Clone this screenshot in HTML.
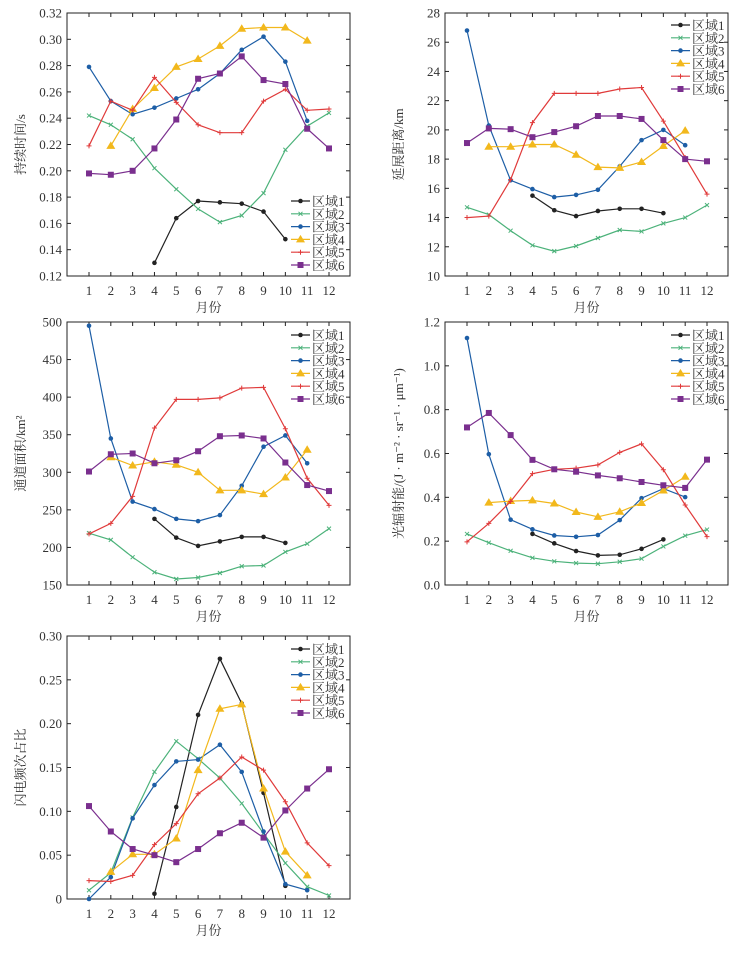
<!DOCTYPE html>
<html><head><meta charset="utf-8">
<style>
body{margin:0;background:#fff;}
svg{display:block;font-family:"Liberation Serif","Noto Serif CJK SC",serif;}
</style></head>
<body>
<svg id="fig" width="741" height="971" viewBox="0 0 741 971" xmlns="http://www.w3.org/2000/svg"></svg>
<script>
const months = [1,2,3,4,5,6,7,8,9,10,11,12];
const regionNames = ["区域1","区域2","区域3","区域4","区域5","区域6"];
const N = null;
// Panel 1: duration (s)
const p1Ticks = [0.12,0.14,0.16,0.18,0.20,0.22,0.24,0.26,0.28,0.30,0.32];
const p1Labels = ["0.12","0.14","0.16","0.18","0.20","0.22","0.24","0.26","0.28","0.30","0.32"];
const p1R1 = [N,N,N,0.130,0.164,0.177,0.176,0.175,0.169,0.148,N,N];
const p1R2 = [0.242,0.235,0.224,0.202,0.186,0.171,0.161,0.166,0.183,0.216,0.234,0.244];
const p1R3 = [0.279,0.253,0.243,0.248,0.255,0.262,0.274,0.292,0.302,0.283,0.238,N];
const p1R4 = [N,0.219,0.247,0.263,0.279,0.285,0.295,0.308,0.309,0.309,0.299,N];
const p1R5 = [0.219,0.253,0.246,0.271,0.252,0.235,0.229,0.229,0.253,0.262,0.246,0.247];
const p1R6 = [0.198,0.197,0.200,0.217,0.239,0.270,0.274,0.287,0.269,0.266,0.232,0.217];
// Panel 2: extension distance (km)
const p2Ticks = [10,12,14,16,18,20,22,24,26,28];
const p2Labels = ["10","12","14","16","18","20","22","24","26","28"];
const p2R1 = [N,N,N,15.5,14.5,14.1,14.45,14.6,14.6,14.3,N,N];
const p2R2 = [14.7,14.2,13.1,12.1,11.7,12.05,12.6,13.15,13.05,13.6,14.0,14.85];
const p2R3 = [26.8,20.3,16.55,15.95,15.4,15.55,15.9,17.5,19.3,20.0,18.95,N];
const p2R4 = [N,18.85,18.85,19.0,19.0,18.3,17.45,17.4,17.8,18.9,19.95,N];
const p2R5 = [14.0,14.1,16.6,20.5,22.5,22.5,22.5,22.8,22.9,20.6,18.1,15.6];
const p2R6 = [19.1,20.1,20.05,19.5,19.85,20.25,20.95,20.95,20.75,19.3,18.0,17.85];
// Panel 3: channel area (km2)
const p3Ticks = [150,200,250,300,350,400,450,500];
const p3Labels = ["150","200","250","300","350","400","450","500"];
const p3R1 = [N,N,N,238,213,202,208,214,214,206,N,N];
const p3R2 = [219,210,187,167,158,160,166,175,176,194,205,225];
const p3R3 = [495,345,261,251,238,235,243,282,334,349,312,N];
const p3R4 = [N,320,309,314,310,300,276,276,271,293,330,N];
const p3R5 = [218,232,268,359,397,397,399,412,413,358,292,256];
const p3R6 = [301,324,325,312,316,328,348,349,345,313,283,275];
// Panel 4: radiance
const p4Ticks = [0,0.2,0.4,0.6,0.8,1.0,1.2];
const p4Labels = ["0.0","0.2","0.4","0.6","0.8","1.0","1.2"];
const p4R1 = [N,N,N,0.233,0.190,0.155,0.135,0.138,0.165,0.208,N,N];
const p4R2 = [0.233,0.193,0.156,0.124,0.108,0.100,0.097,0.106,0.120,0.176,0.225,0.253];
const p4R3 = [1.127,0.597,0.298,0.254,0.226,0.220,0.228,0.296,0.396,0.440,0.401,N];
const p4R4 = [N,0.376,0.383,0.386,0.372,0.333,0.311,0.334,0.374,0.431,0.494,N];
const p4R5 = [0.197,0.281,0.381,0.508,0.528,0.533,0.548,0.605,0.644,0.526,0.365,0.221];
const p4R6 = [0.719,0.785,0.684,0.571,0.528,0.517,0.500,0.487,0.470,0.455,0.443,0.572];
// Panel 5: frequency share
const p5Ticks = [0,0.05,0.10,0.15,0.20,0.25,0.30];
const p5Labels = ["0","0.05","0.10","0.15","0.20","0.25","0.30"];
const p5R1 = [N,N,N,0.006,0.105,0.210,0.274,0.223,0.121,0.015,N,N];
const p5R2 = [0.010,0.030,0.093,0.145,0.180,0.160,0.138,0.109,0.075,0.041,0.014,0.004];
const p5R3 = [0.000,0.025,0.092,0.130,0.157,0.159,0.176,0.145,0.077,0.017,0.010,N];
const p5R4 = [N,0.031,0.051,0.051,0.069,0.147,0.217,0.222,0.126,0.054,0.027,N];
const p5R5 = [0.021,0.020,0.027,0.062,0.086,0.120,0.138,0.162,0.147,0.111,0.064,0.038];
const p5R6 = [0.106,0.077,0.057,0.050,0.042,0.057,0.075,0.087,0.070,0.101,0.126,0.148];

const colors = ["#222222","#4cb27a","#1d5ea6","#f2b81c","#e03a3a","#7a2f8e"];
const markers = ["dot","x","dot","tri","plus","sq"];
const NS = "http://www.w3.org/2000/svg";
const fig = document.getElementById("fig");
function mk(tag, attrs, parent){const e=document.createElementNS(NS,tag);for(const k in attrs)e.setAttribute(k,attrs[k]);(parent||fig).appendChild(e);return e;}

function marker(g, type, x, y, c){
  let m;
  if(type==="dot"){m=mk("circle",{cx:x,cy:y,r:2.3,fill:c},g);}
  else if(type==="sq"){m=mk("rect",{x:x-3,y:y-3,width:6,height:6,fill:c},g);}
  else if(type==="tri"){m=mk("polygon",{points:`${x},${y-4.5} ${x-4.5},${y+3} ${x+4.5},${y+3}`,fill:c},g);}
  else if(type==="x"){m=mk("path",{d:`M${x-2} ${y-2}L${x+2} ${y+2}M${x-2} ${y+2}L${x+2} ${y-2}`,stroke:c,"stroke-width":1},g);}
  else {m=mk("path",{d:`M${x-2.5} ${y}L${x+2.5} ${y}M${x} ${y-2.5}L${x} ${y+2.5}`,stroke:c,"stroke-width":1},g);}
  
  
}

function panel(id, box, ticks, labels, series, ytitle, legendTop, legendX){
  const g = mk("g",{});
  
  
  const L=box.l,R=box.r,T=box.t,B=box.b;
  const ymin=ticks[0], ymax=ticks[ticks.length-1];
  const x1=L+22, x12=R-21;
  const sx = m => x1 + (m-1)*(x12-x1)/11;
  const sy = v => B - (v-ymin)/(ymax-ymin)*(B-T);
  const frame = mk("rect",{x:L,y:T,width:R-L,height:B-T,fill:"none",stroke:"#222","stroke-width":1},g);
  
  
  ticks.forEach((t,i)=>{
    const y=sy(t);
    mk("line",{x1:L,x2:L+4,y1:y,y2:y,stroke:"#222"},g);
    mk("line",{x1:R,x2:R-4,y1:y,y2:y,stroke:"#222"},g);
    const tx=mk("text",{x:L-5,y:y+4.5,"text-anchor":"end","font-size":13,fill:"#333"},g);
    tx.textContent=labels[i];
    
    
  });
  months.forEach(m=>{
    const x=sx(m);
    mk("line",{x1:x,x2:x,y1:B,y2:B-4,stroke:"#222"},g);
    mk("line",{x1:x,x2:x,y1:T,y2:T+4,stroke:"#222"},g);
    const tx=mk("text",{x:x,y:B+19,"text-anchor":"middle","font-size":13,fill:"#333"},g);
    tx.textContent=String(m);
    
    
  });
  const xt=mk("text",{x:(L+R)/2,y:B+36,"text-anchor":"middle","font-size":13,fill:"#333"},g);
  xt.textContent="月份";
  
  
  const yc=(T+B)/2, yx=L-42;
  const yt=mk("text",{x:yx,y:yc,"text-anchor":"middle","font-size":13,fill:"#333",transform:`rotate(-90 ${yx} ${yc})`},g);
  yt.innerHTML=ytitle;
  
  
  series.forEach((arr,si)=>{
    const c=colors[si];
    const sg=mk("g",{},g);
    
    
    let d="", pen=false;
    arr.forEach((v,i)=>{
      if(v===null){pen=false;return;}
      d+=(pen?"L":"M")+sx(months[i]).toFixed(1)+" "+sy(v).toFixed(1);
      pen=true;
    });
    const p=mk("path",{d:d,fill:"none",stroke:c,"stroke-width":1.2},sg);
    
    
    arr.forEach((v,i)=>{ if(v!==null) marker(sg,markers[si],sx(months[i]),sy(v),c); });
  });
  const lg=mk("g",{},g);
  
  
  regionNames.forEach((n,i)=>{
    const y=legendTop+i*12.8, c=colors[i];
    const eg=mk("g",{},lg);
    
    
    mk("line",{x1:legendX,x2:legendX+19,y1:y,y2:y,stroke:c,"stroke-width":1.2},eg);
    marker(eg,markers[i],legendX+9.5,y,c);
    const tx=mk("text",{x:legendX+21,y:y+5,"font-size":13,fill:"#333"},eg);
    tx.textContent=n;
  });
}

panel("panel-duration",{l:67,r:350,t:13,b:276},p1Ticks,p1Labels,[p1R1,p1R2,p1R3,p1R4,p1R5,p1R6],"持续时间/s",201,291);
panel("panel-extension",{l:445,r:728,t:13,b:276},p2Ticks,p2Labels,[p2R1,p2R2,p2R3,p2R4,p2R5,p2R6],"延展距离/km",25,671);
panel("panel-area",{l:67,r:350,t:322,b:585},p3Ticks,p3Labels,[p3R1,p3R2,p3R3,p3R4,p3R5,p3R6],"通道面积/km²",335,291);
panel("panel-radiance",{l:445,r:728,t:322,b:585},p4Ticks,p4Labels,[p4R1,p4R2,p4R3,p4R4,p4R5,p4R6],"光辐射能/(J · m⁻² · sr⁻¹ · μm⁻¹)",335,671);
panel("panel-frequency",{l:67,r:350,t:636,b:899},p5Ticks,p5Labels,[p5R1,p5R2,p5R3,p5R4,p5R5,p5R6],"闪电频次占比",649,291);
</script>
</body></html>
